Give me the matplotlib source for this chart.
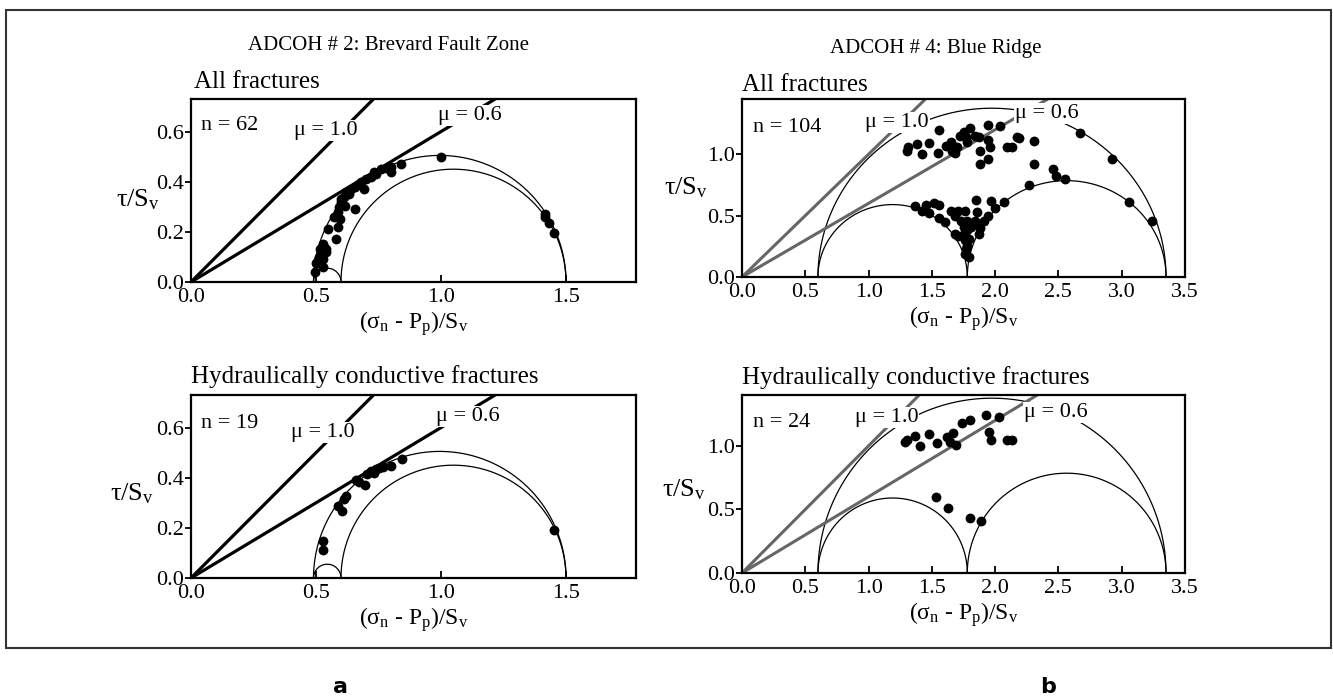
import numpy as np
import matplotlib.pyplot as plt
from matplotlib.patches import Rectangle

plt.rcParams['font.family'] = ['Liberation Serif', 'DejaVu Serif']
plt.rcParams['mathtext.fontset'] = 'custom'
plt.rcParams['mathtext.rm'] = 'Liberation Serif'
plt.rcParams['mathtext.it'] = 'Liberation Serif:italic'
plt.rcParams['mathtext.bf'] = 'Liberation Serif:bold'

# normalised effective principal stresses (S3, S2, S1) / Sv
brevard_stress = [0.49, 0.60, 1.50]
blue_ridge_stress = [0.60, 1.78, 3.35]
mu_values = [1.0, 0.6]

# ADCOH #2 Brevard Fault Zone - all fractures
bfz_all_x = [1.00, 0.84, 0.80, 0.80, 0.76, 0.74, 0.72, 0.70, 0.69, 0.67, 0.655, 0.64,
             0.62, 0.655, 0.61, 0.60, 0.59, 0.586, 0.595, 0.586, 0.547, 0.578, 0.526,
             0.517, 0.538, 0.52, 0.526, 0.509, 0.50, 0.526, 0.497, 0.78, 0.73, 0.68,
             0.63, 0.60, 0.57, 0.53, 0.51, 0.54, 0.615,
             1.414, 1.417, 1.43, 1.45]
bfz_all_y = [0.50, 0.47, 0.46, 0.44, 0.45, 0.43, 0.42, 0.41, 0.37, 0.39, 0.38, 0.37,
             0.36, 0.29, 0.34, 0.32, 0.30, 0.28, 0.25, 0.22, 0.21, 0.17, 0.15,
             0.13, 0.13, 0.11, 0.09, 0.086, 0.077, 0.06, 0.04, 0.455, 0.44, 0.40,
             0.35, 0.33, 0.26, 0.14, 0.10, 0.12, 0.305,
             0.27, 0.26, 0.235, 0.195]

# ADCOH #2 - hydraulically conductive fractures
bfz_hyd_x = [0.845, 0.80, 0.767, 0.741, 0.721, 0.703, 0.695, 0.672, 0.621, 0.612,
             0.586, 0.603, 0.526, 0.526, 1.453, 0.75, 0.73, 0.66]
bfz_hyd_y = [0.474, 0.445, 0.443, 0.434, 0.428, 0.414, 0.372, 0.381, 0.328, 0.315,
             0.288, 0.268, 0.149, 0.112, 0.193, 0.44, 0.42, 0.39]

# ADCOH #4 Blue Ridge - all fractures
br_all_x = [1.30, 1.31, 1.38, 1.42, 1.48, 1.56, 1.55, 1.61, 1.65, 1.66, 1.68, 1.70,
            1.72, 1.75, 1.77, 1.80, 1.78, 1.84, 1.87, 1.88, 1.88, 1.94, 1.94, 1.96,
            1.94, 2.04, 2.09, 2.13, 2.17, 2.19, 2.31, 2.31, 2.27, 2.46, 2.48, 2.55,
            2.67, 2.92, 3.06, 3.24,
            1.37, 1.42, 1.45, 1.48, 1.52, 1.56, 1.56, 1.60, 1.65, 1.68, 1.71, 1.73,
            1.76, 1.75, 1.78, 1.68, 1.71, 1.75, 1.78, 1.81, 1.76, 1.79, 1.77, 1.76,
            1.79, 1.78, 1.85, 1.86, 1.87, 1.88, 1.91, 1.94, 1.97, 2.00, 2.07, 1.84]
br_all_y = [1.03, 1.06, 1.08, 1.00, 1.09, 1.20, 1.01, 1.07, 1.10, 1.03, 1.01, 1.06,
            1.15, 1.18, 1.14, 1.21, 1.10, 1.15, 1.14, 1.03, 0.92, 1.24, 1.12, 1.06,
            0.96, 1.23, 1.06, 1.06, 1.14, 1.13, 1.11, 0.92, 0.75, 0.88, 0.82, 0.80,
            1.17, 0.96, 0.61, 0.46,
            0.58, 0.54, 0.59, 0.52, 0.60, 0.59, 0.48, 0.45, 0.54, 0.50, 0.54, 0.46,
            0.54, 0.41, 0.46, 0.35, 0.33, 0.35, 0.38, 0.41, 0.30, 0.31, 0.23, 0.19,
            0.16, 0.25, 0.63, 0.53, 0.35, 0.40, 0.46, 0.50, 0.62, 0.56, 0.61, 0.46]

# ADCOH #4 - hydraulically conductive fractures
br_hyd_x = [1.29, 1.30, 1.37, 1.41, 1.48, 1.54, 1.62, 1.64, 1.67, 1.69, 1.74, 1.80,
            1.93, 1.95, 1.97, 2.03, 2.09, 2.13, 1.53, 1.63, 1.80, 1.89]
br_hyd_y = [1.03, 1.05, 1.08, 1.00, 1.09, 1.02, 1.07, 1.03, 1.10, 1.01, 1.18, 1.20,
            1.24, 1.11, 1.05, 1.23, 1.05, 1.05, 0.60, 0.51, 0.43, 0.41]

site_titles = ['ADCOH # 2: Brevard Fault Zone', 'ADCOH # 4: Blue Ridge']
panel_titles = ['All fractures', 'Hydraulically conductive fractures']
n_labels = [['n = 62', 'n = 19'], ['n = 104', 'n = 24']]

W, H = 1333, 698


def px_axes(fig, x0, y0, x1, y1):
    # axes from pixel box (top-left origin)
    return fig.add_axes([x0 / W, 1 - y1 / H, (x1 - x0) / W, (y1 - y0) / H])


def mohr(ax, stress):
    s3, s2, s1 = stress
    t = np.linspace(0, np.pi, 300)
    for a, b in ((s3, s1), (s3, s2), (s2, s1)):
        c, r = (a + b) / 2, (b - a) / 2
        ax.plot(c + r * np.cos(t), r * np.sin(t), color='black', lw=0.9, zorder=2)


def friction(ax, color, lw, xmax):
    xs = np.array([0, xmax])
    for mu in mu_values:
        ax.plot(xs, mu * xs, color=color, lw=lw, zorder=2, solid_capstyle='butt')


def style(ax, xlim, ylim, xticks, yticks):
    ax.set_xlim(*xlim)
    ax.set_ylim(*ylim)
    ax.set_xticks(xticks)
    ax.set_xticklabels([f'{v:.1f}' for v in xticks])
    ax.set_yticks(yticks)
    ax.set_yticklabels([f'{v:.1f}' for v in yticks])
    for sp in ax.spines.values():
        sp.set_linewidth(1.6)
    ax.tick_params(axis='x', direction='in', length=5, width=1.3, labelsize=16, pad=4)
    ax.tick_params(axis='y', direction='out', length=4, width=1.3, labelsize=16, pad=1)
    ax.set_xlabel('(σ$_{\\mathrm{n}}$ - P$_{\\mathrm{p}}$)/S$_{\\mathrm{v}}$',
                  fontsize=17, labelpad=2)


def label(ax, x, y, s):
    ax.text(x, y, s, fontsize=16, va='center', ha='left', zorder=5,
            bbox=dict(boxstyle='square,pad=0.05', facecolor='white', edgecolor='none'))


fig = plt.figure(figsize=(W / 100, H / 100), dpi=100)
fig.add_artist(Rectangle((6 / W, 1 - 648 / H), 1325 / W, 638 / H, transform=fig.transFigure,
                         fill=False, edgecolor='#333333', lw=1.5))

ax_tl = px_axes(fig, 191, 99, 636, 282)
ax_bl = px_axes(fig, 191, 395, 636, 578)
ax_tr = px_axes(fig, 742, 99, 1185, 277)
ax_br = px_axes(fig, 742, 395, 1185, 573)

# left: Brevard Fault Zone
for ax, xs, ys, nlab, ny, mu_pos in (
        (ax_tl, bfz_all_x, bfz_all_y, n_labels[0][0], 0.625, [(0.414, 0.605), (0.99, 0.665)]),
        (ax_bl, bfz_hyd_x, bfz_hyd_y, n_labels[0][1], 0.617, [(0.40, 0.58), (0.98, 0.645)])):
    style(ax, (0, 1.78), (0, 0.73), [0.0, 0.5, 1.0, 1.5], [0.0, 0.2, 0.4, 0.6])
    mohr(ax, brevard_stress)
    friction(ax, 'black', 2.3, 1.78)
    ax.scatter(xs, ys, s=50, color='black', zorder=3, linewidths=0)
    ax.text(0.04, ny, nlab, fontsize=16, va='center', ha='left')
    label(ax, *mu_pos[0], 'μ = 1.0')
    label(ax, *mu_pos[1], 'μ = 0.6')

# right: Blue Ridge
for ax, xs, ys, nlab, ny, ytop, mu_pos in (
        (ax_tr, br_all_x, br_all_y, n_labels[1][0], 1.22, 1.45, [(0.97, 1.26), (2.16, 1.33)]),
        (ax_br, br_hyd_x, br_hyd_y, n_labels[1][1], 1.18, 1.40, [(0.89, 1.22), (2.23, 1.26)])):
    style(ax, (0, 3.5), (0, ytop), [0.0, 0.5, 1.0, 1.5, 2.0, 2.5, 3.0, 3.5], [0.0, 0.5, 1.0])
    mohr(ax, blue_ridge_stress)
    friction(ax, '#666666', 2.2, 3.5)
    ax.scatter(xs, ys, s=50, color='black', zorder=3, linewidths=0)
    ax.text(0.09, ny, nlab, fontsize=16, va='center', ha='left')
    label(ax, *mu_pos[0], 'μ = 1.0')
    label(ax, *mu_pos[1], 'μ = 0.6')

# y labels drawn horizontally
ylab = 'τ/S$_{\\mathrm{v}}$'
for ax, fx, fy in ((ax_tl, -0.119, 0.45), (ax_bl, -0.133, 0.46),
                   (ax_tr, -0.126, 0.50), (ax_br, -0.131, 0.47)):
    ax.text(fx, fy, ylab, transform=ax.transAxes, fontsize=19, ha='center', va='center')

# headings
fig.text(388 / W, 1 - 46 / H, site_titles[0], fontsize=15, ha='center', va='center')
fig.text(936 / W, 1 - 48 / H, site_titles[1], fontsize=15, ha='center', va='center')
fig.text(194 / W, 1 - 82 / H, panel_titles[0], fontsize=18, ha='left', va='center')
fig.text(742 / W, 1 - 85 / H, panel_titles[0], fontsize=18, ha='left', va='center')
fig.text(191 / W, 1 - 377 / H, panel_titles[1], fontsize=18, ha='left', va='center')
fig.text(742 / W, 1 - 378 / H, panel_titles[1], fontsize=18, ha='left', va='center')

for s, xp in (('a', 340), ('b', 1048)):
    fig.text(xp / W, 1 - 693 / H, s, fontsize=16, fontweight='bold', family='DejaVu Sans',
             ha='center', va='baseline')

fig.savefig('out.png', dpi=100)
